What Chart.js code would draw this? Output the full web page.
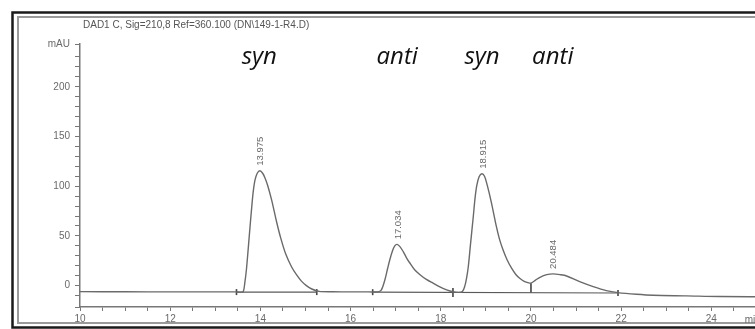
<!DOCTYPE html>
<html>
<head>
<meta charset="utf-8">
<script src="https://cdn.jsdelivr.net/npm/chart.js@4.4.1/dist/chart.umd.min.js"></script>
<style>
  html, body { margin: 0; padding: 0; background: #fff; overflow: hidden; }
  #wrap { width: 790px; height: 329px; }
</style>
</head>
<body>
<div id="wrap"><canvas id="hplc" width="790" height="329"></canvas></div>
<script>
// chromatogram trace (time in min, signal in mAU)
const signalTimes = [10.0, 11.0, 12.0, 13.0, 13.45, 13.55, 13.62, 13.655, 13.69, 13.73, 13.77, 13.81,
  13.84, 13.88, 13.93, 13.99, 14.05, 14.1, 14.16, 14.25, 14.36, 14.45, 14.56, 14.69, 14.8, 14.91,
  15.02, 15.14, 15.3, 15.6, 16.0, 16.4, 16.6, 16.68, 16.76, 16.82, 16.87, 16.93, 16.98, 17.03,
  17.09, 17.17, 17.24, 17.31, 17.42, 17.54, 17.68, 17.83, 17.98, 18.13, 18.27, 18.4, 18.48, 18.53,
  18.57, 18.61, 18.66, 18.72, 18.76, 18.8, 18.85, 18.91, 18.97, 19.03, 19.12, 19.23, 19.3, 19.38,
  19.47, 19.57, 19.66, 19.75, 19.85, 19.95, 20.0, 20.1, 20.2, 20.35, 20.49, 20.65, 20.79, 21.08,
  21.38, 21.67, 21.93, 22.34, 22.71, 23.45, 24.18, 25.5];
const signalValues = [-6.0, -6.2, -6.3, -6.3, -6.3, -6.5, -6.0, 3, 16, 37, 59, 80,
  94, 106, 113, 115.5, 113, 108.5, 101, 86, 64, 48, 32, 19, 11, 4.5,
  0, -3.4, -5.8, -6.2, -6.3, -6.3, -6.3, -4.5, 5.7, 17, 26, 35, 40, 41.5,
  39.5, 34, 28, 23, 16, 11, 6.2, 2.4, -1.3, -4.3, -6.2, -6.8, -6.0, -1,
  7, 19, 42, 69, 88, 101, 109.5, 112.5, 110, 101, 84, 60, 47, 36,
  26, 17.5, 11.5, 7.4, 4.3, 2.7, 2.5, 5.5, 8.4, 11, 11.8, 11, 9.7, 4,
  -1, -5, -7, -8.7, -9.7, -10.3, -11, -11.2];

// integration baselines and markers
const base1Times = [13.47, 15.25];
const base1Values = [-6.5, -6.5];
const base2Times = [16.49, 21.93];
const base2Values = [-6.6, -7.4];
const markerTimes = [13.47, 15.25, 16.49, 18.27, 21.93];
const markerValues = [-6.5, -6.5, -6.6, -6.9, -7.4];
const dropTimes = [20.0, 20.0];
const dropValues = [2.5, -7.2];

// peaks
const peakTimes = [13.975, 17.034, 18.915, 20.484];
const peakTops = [115.5, 41.5, 112.5, 11.8];
const peakLabels = ['13.975', '17.034', '18.915', '20.484'];
const isomerLabels = ['syn', 'anti', 'syn', 'anti'];

// axes
const xTickLabels = [10, 12, 14, 16, 18, 20, 22, 24];
const yTickLabels = [0, 50, 100, 150, 200];
const yMin = -21.5, yMax = 243;
const titleText = 'DAD1 C, Sig=210,8 Ref=360.100 (DN\\149-1-R4.D)';

function pts(xs, ys) {
  return xs.map((x, i) => ({ x: x, y: ys[i] }));
}

const grey = '#6a6a6a';

const decor = {
  id: 'decor',
  beforeDraw(chart) {
    const ctx = chart.ctx;
    ctx.save();
    ctx.fillStyle = '#fff';
    ctx.fillRect(0, 0, chart.width, chart.height);
    // outer black frame and inner grey frame
    ctx.strokeStyle = '#1a1a1a';
    ctx.lineWidth = 2.5;
    ctx.strokeRect(12.5, 12.5, 900, 315);
    ctx.strokeStyle = '#9a9a9a';
    ctx.lineWidth = 2;
    ctx.strokeRect(18, 17, 900, 306);
    ctx.restore();
  },
  afterDraw(chart) {
    const ctx = chart.ctx;
    const xs = chart.scales.x, ys = chart.scales.y;
    ctx.save();
    // title
    ctx.fillStyle = '#555';
    ctx.font = '10px "Liberation Sans", Arial, sans-serif';
    ctx.textAlign = 'left';
    ctx.textBaseline = 'middle';
    ctx.fillText(titleText, 83, 25);
    // x unit
    ctx.fillStyle = grey;
    ctx.fillText('min', xs.getPixelForValue(24.74), 320);
    // peak retention-time labels, rotated
    ctx.font = '9.5px "Liberation Sans", Arial, sans-serif';
    peakTimes.forEach((t, i) => {
      const px = xs.getPixelForValue(t);
      const py = ys.getPixelForValue(peakTops[i]) - 5;
      ctx.save();
      ctx.translate(px + 1, py);
      ctx.rotate(-Math.PI / 2);
      ctx.textAlign = 'left';
      ctx.textBaseline = 'middle';
      ctx.fillText(peakLabels[i], 0, 0);
      ctx.restore();
    });
    // isomer annotations
    ctx.fillStyle = '#111';
    ctx.font = 'italic 24px "Open Sans", sans-serif';
    ctx.textAlign = 'center';
    ctx.textBaseline = 'alphabetic';
    peakTimes.forEach((t, i) => {
      ctx.fillText(isomerLabels[i], xs.getPixelForValue(t), 64);
    });
    ctx.restore();
  }
};

const ctx = document.getElementById('hplc').getContext('2d');
new Chart(ctx, {
  type: 'line',
  data: {
    datasets: [
      {
        data: pts(signalTimes, signalValues),
        borderColor: grey,
        borderWidth: 1.4,
        pointRadius: 0,
        tension: 0.3,
        fill: false
      },
      {
        data: pts(base1Times, base1Values),
        borderColor: '#5a5a5a',
        borderWidth: 1.2,
        pointRadius: 0
      },
      {
        data: pts(base2Times, base2Values),
        borderColor: '#5a5a5a',
        borderWidth: 1.2,
        pointRadius: 0
      },
      {
        data: pts(dropTimes, dropValues),
        borderColor: '#444',
        borderWidth: 1.6,
        pointRadius: 0
      },
      {
        data: pts(markerTimes, markerValues),
        showLine: false,
        pointStyle: 'line',
        rotation: 90,
        pointRadius: [3, 3, 3, 4.5, 3],
        borderColor: '#444',
        borderWidth: 1.6
      }
    ]
  },
  options: {
    responsive: false,
    animation: false,
    devicePixelRatio: 1,
    layout: { autoPadding: false, padding: { left: 0, top: 44, right: 11, bottom: 0 } },
    plugins: { legend: { display: false }, tooltip: { enabled: false } },
    scales: {
      x: {
        type: 'linear',
        min: 10,
        max: 25.5,
        afterFit: s => { s.height = 22; },
        border: { color: '#777', width: 1.5 },
        grid: { drawOnChartArea: false, tickLength: 4, tickColor: '#777' },
        ticks: {
          stepSize: 0.5,
          autoSkip: false,
          maxRotation: 0,
          padding: 2,
          color: grey,
          font: { family: '"Liberation Sans", Arial, sans-serif', size: 10 },
          callback: v => xTickLabels.includes(v) ? String(v) : ''
        }
      },
      y: {
        min: yMin,
        max: yMax,
        afterFit: s => { s.width = 80; },
        border: { color: '#777', width: 1.5 },
        grid: { drawOnChartArea: false, tickLength: 5, tickColor: '#777' },
        ticks: {
          stepSize: 10,
          autoSkip: false,
          padding: 5,
          color: grey,
          font: { family: '"Liberation Sans", Arial, sans-serif', size: 10 },
          callback: v => v === yMax ? 'mAU' : (yTickLabels.includes(v) ? String(v) : '')
        }
      }
    }
  },
  plugins: [decor]
});
</script>
</body>
</html>
